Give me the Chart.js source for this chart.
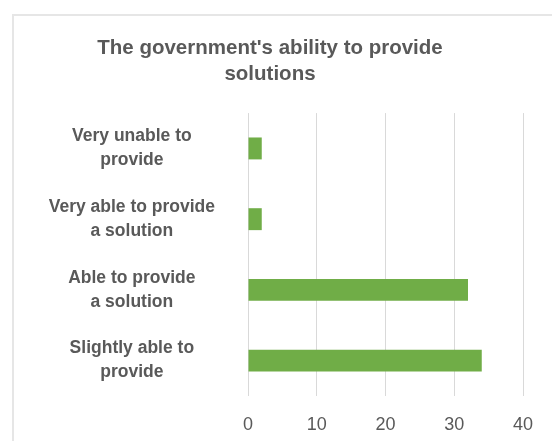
<!DOCTYPE html>
<html>
<head>
<meta charset="utf-8">
<script src="https://cdn.jsdelivr.net/npm/chart.js@4.4.1/dist/chart.umd.min.js"></script>
<style>
  html, body { margin: 0; padding: 0; background: #fff; }
  #wrap { position: relative; width: 552px; height: 441px; overflow: hidden; }
  #frame { position: absolute; left: 12px; top: 14px; width: 600px; height: 500px; border: 2px solid #e6e6e6; box-sizing: border-box; }
  #chart { position: absolute; left: 0; top: 0; }
</style>
</head>
<body>
<div id="wrap">
  <div id="frame"></div>
  <canvas id="chart" width="552" height="441"></canvas>
</div>
<script>
  // categories, top to bottom
  var categories = [
    ["Very unable to", "provide"],
    ["Very able to provide", "a solution"],
    ["Able to provide", "a solution"],
    ["Slightly able to", "provide"]
  ];
  var counts = [2, 2, 32, 34];
  var xTicks = [0, 10, 20, 30, 40];
  var chartTitle = ["The government's ability to provide", "solutions"];

  var FONT = "'Liberation Sans', Arial, sans-serif";
  var TEXT = "#595959";

  var ctx = document.getElementById("chart").getContext("2d");
  var chart = new Chart(ctx, {
    type: "bar",
    data: {
      labels: categories,
      datasets: [{
        label: "Count",
        data: counts,
        backgroundColor: "#70ad47",
        borderWidth: 0,
        categoryPercentage: 1,
        barPercentage: 0.31
      }]
    },
    options: {
      indexAxis: "y",
      responsive: false,
      animation: false,
      layout: { padding: { left: 17, right: 29, top: 0, bottom: 0 } },
      plugins: {
        legend: { display: false },
        tooltip: { enabled: false },
        title: {
          display: true,
          text: chartTitle,
          color: TEXT,
          font: { family: FONT, size: 20.5, weight: "bold", lineHeight: 1.27 },
          padding: { top: 35, bottom: 26 }
        }
      },
      scales: {
        x: {
          min: 0,
          max: 40,
          afterBuildTicks: function (scale) {
            scale.ticks = xTicks.map(function (v) { return { value: v }; });
          },
          afterFit: function (scale) { scale.height = 45; },
          grid: { color: "#d9d9d9", lineWidth: 1, drawTicks: false },
          border: { display: false },
          ticks: {
            color: TEXT,
            padding: 18,
            font: { family: FONT, size: 18 }
          }
        },
        y: {
          afterFit: function (scale) {
            scale.width = 231;
            // labels sit inside the category bands, no extra room needed
            scale.paddingTop = 0;
            scale.paddingBottom = 0;
          },
          grid: { display: false, drawTicks: false },
          border: { display: false },
          ticks: {
            color: TEXT,
            crossAlign: "center",
            padding: 33,
            font: { family: FONT, size: 17.5, weight: "bold", lineHeight: 1.37 }
          }
        }
      }
    }
  });
</script>
</body>
</html>
